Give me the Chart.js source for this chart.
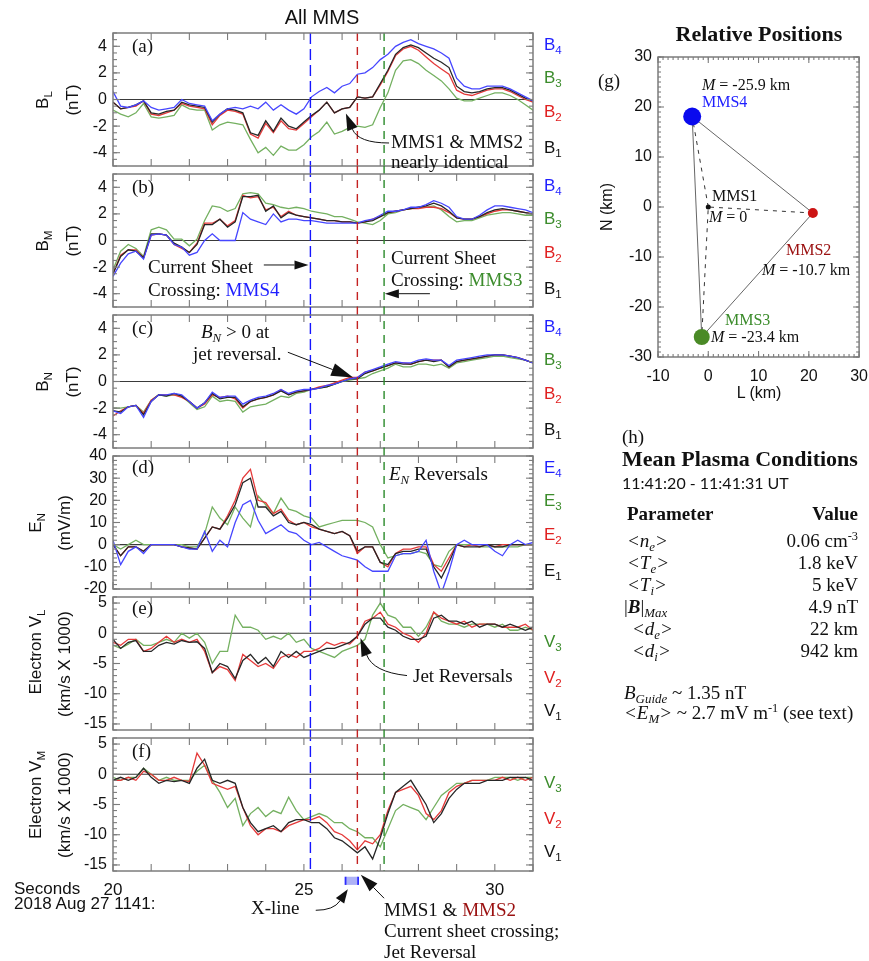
<!DOCTYPE html>
<html><head><meta charset="utf-8">
<script src="https://cdn.jsdelivr.net/npm/chart.js"></script>
<style>
html,body{margin:0;padding:0;background:#fff;}
body{width:869px;height:961px;position:relative;overflow:hidden;}
canvas{position:absolute;}
.x{position:absolute;white-space:nowrap;line-height:1;color:#111;z-index:5;}
.l{transform:translateY(-50%);}
.c{transform:translate(-50%,-50%);}
.r{transform:translate(-100%,-50%);}
.v{transform:translate(-50%,-50%) rotate(-90deg);}
.sf{font-family:"Liberation Serif","Times New Roman",serif;font-size:19px;}
.ss{font-family:"Liberation Sans",Arial,sans-serif;font-size:17px;}
.sb{font-size:0.68em;position:relative;top:0.32em;}
.su{font-size:0.65em;position:relative;top:-0.55em;}
.cb{color:#1f1fff}.cg{color:#3c8c2c}.cr{color:#e02020}.cdr{color:#9a1010}
</style></head><body>
<canvas id="pa" width="560" height="165" style="left:0;top:17px"></canvas>
<canvas id="pb" width="560" height="165" style="left:0;top:158px"></canvas>
<canvas id="pc" width="560" height="165" style="left:0;top:299px"></canvas>
<canvas id="pd" width="560" height="165" style="left:0;top:440px"></canvas>
<canvas id="pe" width="560" height="165" style="left:0;top:581px"></canvas>
<canvas id="pf" width="560" height="198" style="left:0;top:722px"></canvas>
<canvas id="pg" width="288" height="380" style="left:590px;top:30px"></canvas>

<!-- left column texts -->
<div class="x c ss" style="left:322px;top:17px;font-size:20px">All MMS</div>
<div class="x v ss" style="left:42px;top:100px">B<span class="sb">L</span></div>
<div class="x v ss" style="left:72px;top:100px">(nT)</div>
<div class="x v ss" style="left:42px;top:241px">B<span class="sb">M</span></div>
<div class="x v ss" style="left:72px;top:241px">(nT)</div>
<div class="x v ss" style="left:42px;top:382px">B<span class="sb">N</span></div>
<div class="x v ss" style="left:72px;top:382px">(nT)</div>
<div class="x v ss" style="left:35px;top:523px">E<span class="sb">N</span></div>
<div class="x v ss" style="left:64px;top:523px">(mV/m)</div>
<div class="x v ss" style="left:35px;top:652px">Electron V<span class="sb">L</span></div>
<div class="x v ss" style="left:64px;top:664px">(km/s X 1000)</div>
<div class="x v ss" style="left:35px;top:795px">Electron V<span class="sb">M</span></div>
<div class="x v ss" style="left:64px;top:805px">(km/s X 1000)</div>

<div class="x l ss cb" style="left:544px;top:44px">B<span class="sb">4</span></div>
<div class="x l ss cg" style="left:544px;top:77px">B<span class="sb">3</span></div>
<div class="x l ss cr" style="left:544px;top:111px">B<span class="sb">2</span></div>
<div class="x l ss" style="left:544px;top:147px">B<span class="sb">1</span></div>
<div class="x l ss cb" style="left:544px;top:185px">B<span class="sb">4</span></div>
<div class="x l ss cg" style="left:544px;top:218px">B<span class="sb">3</span></div>
<div class="x l ss cr" style="left:544px;top:252px">B<span class="sb">2</span></div>
<div class="x l ss" style="left:544px;top:288px">B<span class="sb">1</span></div>
<div class="x l ss cb" style="left:544px;top:326px">B<span class="sb">4</span></div>
<div class="x l ss cg" style="left:544px;top:359px">B<span class="sb">3</span></div>
<div class="x l ss cr" style="left:544px;top:393px">B<span class="sb">2</span></div>
<div class="x l ss" style="left:544px;top:429px">B<span class="sb">1</span></div>
<div class="x l ss cb" style="left:544px;top:467px">E<span class="sb">4</span></div>
<div class="x l ss cg" style="left:544px;top:500px">E<span class="sb">3</span></div>
<div class="x l ss cr" style="left:544px;top:534px">E<span class="sb">2</span></div>
<div class="x l ss" style="left:544px;top:570px">E<span class="sb">1</span></div>
<div class="x l ss cg" style="left:544px;top:641px">V<span class="sb">3</span></div>
<div class="x l ss cr" style="left:544px;top:677px">V<span class="sb">2</span></div>
<div class="x l ss" style="left:544px;top:710px">V<span class="sb">1</span></div>
<div class="x l ss cg" style="left:544px;top:782px">V<span class="sb">3</span></div>
<div class="x l ss cr" style="left:544px;top:818px">V<span class="sb">2</span></div>
<div class="x l ss" style="left:544px;top:851px">V<span class="sb">1</span></div>

<div class="x l sf" style="left:132px;top:45px">(a)</div>
<div class="x l sf" style="left:132px;top:186px">(b)</div>
<div class="x l sf" style="left:132px;top:327px">(c)</div>
<div class="x l sf" style="left:132px;top:466px">(d)</div>
<div class="x l sf" style="left:132px;top:607px">(e)</div>
<div class="x l sf" style="left:132px;top:750px">(f)</div>

<div class="x l sf" style="left:391px;top:141px">MMS1 &amp; MMS2</div>
<div class="x l sf" style="left:391px;top:161px">nearly identical</div>
<div class="x l sf" style="left:148px;top:266px">Current Sheet</div>
<div class="x l sf" style="left:148px;top:289px">Crossing: <span class="cb">MMS4</span></div>
<div class="x l sf" style="left:391px;top:257px">Current Sheet</div>
<div class="x l sf" style="left:391px;top:279px">Crossing: <span class="cg">MMS3</span></div>
<div class="x l sf" style="left:201px;top:331px"><i>B<span class="sb">N</span></i> &gt; 0 at</div>
<div class="x l sf" style="left:193px;top:353px">jet reversal.</div>
<div class="x l sf" style="left:389px;top:473px"><i>E<span class="sb">N</span></i> Reversals</div>
<div class="x l sf" style="left:413px;top:675px">Jet Reversals</div>

<div class="x l ss" style="left:14px;top:888px">Seconds</div>
<div class="x l ss" style="left:14px;top:903px">2018 Aug 27 1141:</div>
<div class="x l sf" style="left:251px;top:907px">X-line</div>
<div class="x l sf" style="left:384px;top:909px">MMS1 &amp; <span class="cdr">MMS2</span></div>
<div class="x l sf" style="left:384px;top:930px">Current sheet crossing;</div>
<div class="x l sf" style="left:384px;top:951px">Jet Reversal</div>

<!-- (g) texts -->
<div class="x c sf" style="left:759px;top:34px;font-size:22px;font-weight:bold">Relative Positions</div>
<div class="x l sf" style="left:598px;top:80px">(g)</div>
<div class="x v ss" style="left:607px;top:207px;font-size:16px">N (km)</div>
<div class="x c ss" style="left:759px;top:393px;font-size:16px">L (km)</div>
<div class="x l sf" style="left:702px;top:85px;font-size:16px"><i>M</i> = -25.9 km</div>
<div class="x l sf cb" style="left:702px;top:102px;font-size:16px">MMS4</div>
<div class="x l sf" style="left:712px;top:196px;font-size:16px">MMS1</div>
<div class="x l sf" style="left:709px;top:217px;font-size:16px"><i>M</i> = 0</div>
<div class="x l sf cdr" style="left:786px;top:250px;font-size:16px">MMS2</div>
<div class="x l sf" style="left:762px;top:270px;font-size:16px"><i>M</i> = -10.7 km</div>
<div class="x l sf cg" style="left:725px;top:320px;font-size:16px">MMS3</div>
<div class="x l sf" style="left:711px;top:337px;font-size:16px"><i>M</i> = -23.4 km</div>

<!-- (h) texts -->
<div class="x l sf" style="left:622px;top:436px">(h)</div>
<div class="x l sf" style="left:622px;top:459px;font-size:22px;font-weight:bold">Mean Plasma Conditions</div>
<div class="x l" style="left:622px;top:483px;font-family:Lato,'Open Sans',sans-serif;font-size:16px">11:41:20 - 11:41:31 UT</div>
<div class="x l sf" style="left:627px;top:513px;font-weight:bold">Parameter</div>
<div class="x r sf" style="left:858px;top:513px;font-weight:bold">Value</div>
<div class="x l sf" style="left:627px;top:540px"><i>&lt;n<span class="sb">e</span>&gt;</i></div>
<div class="x r sf" style="left:858px;top:540px">0.06 cm<span class="su">-3</span></div>
<div class="x l sf" style="left:627px;top:562px"><i>&lt;T<span class="sb">e</span>&gt;</i></div>
<div class="x r sf" style="left:858px;top:562px">1.8 keV</div>
<div class="x l sf" style="left:627px;top:584px"><i>&lt;T<span class="sb">i</span>&gt;</i></div>
<div class="x r sf" style="left:858px;top:584px">5 keV</div>
<div class="x l sf" style="left:624px;top:606px">|<b><i>B</i></b>|<span class="sb"><i>Max</i></span></div>
<div class="x r sf" style="left:858px;top:606px">4.9 nT</div>
<div class="x l sf" style="left:632px;top:628px"><i>&lt;d<span class="sb">e</span>&gt;</i></div>
<div class="x r sf" style="left:858px;top:628px">22 km</div>
<div class="x l sf" style="left:632px;top:650px"><i>&lt;d<span class="sb">i</span>&gt;</i></div>
<div class="x r sf" style="left:858px;top:650px">942 km</div>
<div class="x l sf" style="left:624px;top:692px"><i>B<span class="sb">Guide</span></i> ~ 1.35 nT</div>
<div class="x l sf" style="left:624px;top:712px"><i>&lt;E<span class="sb">M</span>&gt;</i> ~ 2.7 mV m<span class="su">-1</span> (see text)</div>

<script>
// ---------------- DATA ----------------
const T = [20.0,20.2,20.4,20.6,20.8,21.0,21.2,21.4,21.6,21.8,22.0,22.2,22.4,22.6,22.8,23.0,23.2,23.4,23.6,23.8,24.0,24.2,24.4,24.6,24.8,25.0,25.2,25.4,25.6,25.8,26.0,26.2,26.4,26.6,26.8,27.0,27.2,27.4,27.6,27.8,28.0,28.2,28.4,28.6,28.8,29.0,29.2,29.4,29.6,29.8,30.0,30.2,30.4,30.6,30.8,31.0];

// (a) B_L (nT)
const BL1 = [-0.2,-0.7,-0.6,-0.4,-0.1,-1.0,-1.1,-0.9,-0.8,-0.2,-0.4,-0.5,-0.6,-1.7,-1.1,-0.7,-0.8,-1.0,-2.5,-2.7,-1.6,-2.4,-1.4,-2.0,-2.2,-1.7,-1.2,-0.8,-0.2,-1.0,-0.7,-0.6,0.2,0.1,0.2,1.2,2.2,3.4,3.9,4.1,3.9,3.5,3.1,2.8,2.4,1.0,0.6,0.5,0.6,0.8,0.9,0.9,0.7,0.4,0.1,-0.1];
const BL2 = [-0.2,-0.7,-0.6,-0.5,-0.1,-1.1,-1.2,-1.0,-0.8,-0.3,-0.5,-0.6,-0.7,-1.9,-1.2,-0.8,-0.9,-1.1,-2.6,-2.9,-1.8,-2.5,-1.6,-2.2,-2.3,-1.8,-1.3,-0.8,-0.2,-1.0,-0.7,-0.6,0.2,0.1,0.2,1.1,2.1,3.3,3.8,4.0,3.7,3.2,2.7,2.3,1.9,0.7,0.4,0.3,0.5,0.7,0.8,0.8,0.6,0.3,0.0,-0.2];
const BL3 = [-0.8,-1.1,-1.3,-1.0,-0.3,-1.3,-1.4,-1.3,-1.2,-0.4,-0.7,-0.8,-0.8,-2.3,-1.9,-1.7,-1.8,-1.9,-3.0,-4.0,-3.6,-4.2,-3.5,-3.8,-3.8,-3.4,-2.8,-2.4,-1.7,-2.6,-2.4,-2.1,-2.0,-2.1,-1.9,-0.6,0.5,2.2,2.9,3.0,2.7,2.2,1.8,1.4,0.8,0.1,-0.1,-0.1,0.1,0.3,0.5,0.5,0.3,0.0,-0.4,-0.8];
const BL4 = [0.6,-0.5,-0.6,-0.4,-0.1,-0.6,-0.8,-0.7,-0.6,0.0,-0.3,-0.4,-0.5,-1.6,-1.1,-0.7,-0.6,-0.7,-0.5,-0.7,-0.2,-0.8,-0.4,-0.8,-1.1,-0.7,0.2,0.6,0.9,0.5,1.0,1.2,1.9,2.0,2.4,3.0,3.4,4.0,4.3,4.5,4.2,4.0,3.8,3.5,3.1,1.6,1.0,0.8,0.8,1.0,1.0,1.0,0.8,0.5,0.2,-0.1];

// (b) B_M (nT)
const BM1 = [-2.5,-1.2,-0.7,-0.8,-1.3,0.5,0.5,0.4,-0.2,-0.5,-0.9,-0.3,1.2,1.2,1.6,1.0,1.4,3.3,3.3,3.4,2.2,2.6,1.7,2.1,1.9,1.8,1.7,1.6,1.5,1.5,1.4,1.4,1.3,1.4,1.5,1.8,2.1,2.2,2.3,2.4,2.5,2.6,2.8,2.6,2.2,1.7,1.6,1.6,1.8,2.1,2.3,2.4,2.3,2.2,2.1,2.0];
const BM2 = [-2.5,-1.1,-0.7,-0.7,-1.3,0.4,0.5,0.4,-0.3,-0.6,-0.9,-0.2,1.3,1.3,1.6,1.1,1.5,3.4,3.2,3.3,2.3,2.5,1.8,2.2,1.9,1.8,1.7,1.6,1.5,1.5,1.4,1.4,1.3,1.4,1.6,1.8,2.1,2.2,2.3,2.4,2.4,2.5,2.5,2.4,2.1,1.7,1.6,1.6,1.8,2.0,2.2,2.3,2.3,2.2,2.1,2.0];
const BM3 = [-2.2,-0.8,-0.3,-0.6,-1.2,0.8,1.0,0.8,0.1,0.1,-0.4,0.1,1.5,2.6,2.5,2.2,2.4,3.5,3.6,3.5,2.8,2.7,2.5,2.4,2.5,2.4,2.2,2.1,2.0,1.8,1.8,1.6,1.4,1.3,1.2,1.5,2.0,2.1,2.3,2.4,2.5,2.5,2.6,2.3,1.8,1.4,1.5,1.5,1.7,1.9,2.0,2.1,2.1,2.0,1.9,1.9];
const BM4 = [-2.7,-1.7,-1.0,-0.8,-1.4,0.4,0.5,0.4,-0.3,-0.5,-1.1,-0.9,0.0,0.5,0.0,0.0,0.0,2.1,1.6,1.4,1.2,2.0,1.4,1.6,1.6,1.5,1.5,1.4,1.3,1.3,1.3,1.3,1.3,1.5,1.6,1.9,2.2,2.2,2.3,2.5,2.5,2.7,3.0,2.8,2.5,1.8,1.6,1.6,1.9,2.3,2.6,2.6,2.5,2.4,2.3,2.1];

// (c) B_N (nT)
const BN1 = [-2.2,-2.3,-1.9,-1.8,-2.5,-1.5,-1.0,-1.1,-0.9,-1.1,-1.5,-2.0,-1.6,-0.9,-1.3,-1.2,-1.2,-1.9,-1.5,-1.3,-1.2,-1.0,-0.7,-1.0,-0.8,-0.7,-0.6,-0.5,-0.4,-0.2,0.0,0.2,0.2,0.6,0.8,1.0,1.2,1.4,1.3,1.3,1.5,1.6,1.5,1.6,1.1,1.5,1.6,1.7,1.8,1.9,2.0,2.0,1.9,1.8,1.6,1.4];
const BN2 = [-2.6,-2.2,-1.9,-1.8,-2.4,-1.4,-1.0,-1.0,-1.0,-1.2,-1.5,-2.0,-1.7,-1.0,-1.2,-1.1,-1.3,-2.0,-1.5,-1.3,-1.2,-1.0,-0.6,-1.0,-0.8,-0.7,-0.6,-0.4,-0.3,-0.1,0.1,0.3,0.3,0.7,0.8,1.0,1.2,1.4,1.4,1.3,1.5,1.6,1.6,1.6,1.1,1.5,1.6,1.7,1.8,1.9,2.0,2.0,1.9,1.8,1.6,1.4];
const BN3 = [-2.0,-2.0,-1.9,-1.8,-2.3,-1.4,-1.0,-1.1,-1.0,-1.1,-1.6,-2.1,-1.9,-1.1,-1.5,-1.4,-1.5,-2.3,-1.9,-1.8,-1.7,-1.4,-1.1,-1.2,-0.9,-0.8,-0.6,-0.5,-0.4,-0.2,0.0,0.1,0.2,0.3,0.6,0.8,1.0,1.3,1.1,1.1,1.3,1.3,1.2,1.3,1.0,1.4,1.5,1.6,1.7,1.8,1.9,1.9,1.8,1.7,1.6,1.4];
const BN4 = [-2.2,-2.4,-1.9,-1.8,-2.7,-1.5,-1.0,-1.0,-0.9,-1.0,-1.5,-2.0,-1.6,-0.8,-1.2,-1.1,-1.1,-1.7,-1.4,-1.2,-1.1,-0.9,-0.6,-0.9,-0.7,-0.6,-0.6,-0.5,-0.3,-0.2,0.0,0.2,0.3,0.7,0.9,1.1,1.3,1.5,1.4,1.4,1.6,1.7,1.6,1.6,1.2,1.6,1.7,1.8,1.9,2.0,2.0,2.0,1.9,1.8,1.6,1.4];

// (d) E_N (mV/m)
const EN1 = [0,-5,-1,-1,-3,0,0,0,0,-1,-1.5,-2,3,8,7,12,18,28,30,17,17,13,15,10,9,10,9,7,6,5,6,4,-3,-1,-1,-8,-9,-4,-3,-3,-2,-2,-10,-15,-8,0,-1,-1,-1,0,-1,-1,0,0,0,0];
const EN2 = [0,-5,-1,-1,-3,0,0,0,0,-1,-1.5,-2,3,8,7,13,20,30,34,20,19,14,16,11,9,10,8,7,6,5,6,4,-4,-1,-1,-8,-10,-4,-2,-2,-1,-1,-9,-12,-6,0,-1,0,-1,0,-1,0,0,0,0,0];
const EN3 = [0,-2,0,2,0,0,0,0,0,0,-1,-1,5,17,12,9,17,12,8,22,18,14,21,16,15,13,12,8,9,10,11,11,11,10,8,0,-6,-5,-4,-4,-3,-4,-9,-10,-3,0,0,0,-1,-1,-1,-1,-1,-1,0,0];
const EN4 = [2,-9,-3,-1,-4,0,0,0,0,-1,-2,-2,6,-3,2,-1,10,18,20,11,5,7,9,6,5,2,0,1,-1,-3,-5,-6,-7,-10,-12,-12,-12,-5,-4,-4,-3,2,-12,-22,-12,0,2,0,0,0,-3,-5,0,2,0,1];

// (e) Electron V_L (km/s x 1000)
const VL1 = [-1,-2.5,-1.5,-1.2,-3,-3,-2,-1.5,-1.8,-1.2,-1.5,-1.4,-2.5,-6.5,-5,-5.5,-7.5,-4.5,-3.5,-5,-4,-5.5,-3,-4,-3,-4,-3.5,-3,-2.5,-2.5,-2,-1.5,-0.5,1.5,2.5,2.5,1,0.5,-0.5,-1,-1,-0.5,2.5,3,2,2,1.5,2,1,1.5,1.5,1,1.5,1,0.5,1];
const VL2 = [-1.5,-2,-1,-1,-3,-2.5,-1.5,-0.5,-1.5,-1,-1.5,-1,-3,-6.5,-5.5,-6,-7.8,-3.5,-4.5,-5.5,-5,-5.8,-4,-3.5,-4,-3,-3,-2.5,-1.5,-2,-1.5,-1.8,-0.5,2,2.5,3.5,1.5,1,0,-0.5,-1.5,0,3.5,2.5,2,1.5,2,1,1.5,1.5,1.5,1,1,1,1.5,0.5];
const VL3 = [-2,-2.5,-1.8,-1,-2,-2,-1.5,-1,-1.5,0,-0.8,0,-1.5,-5,-3,-3,3,1,1,0.5,-1,-0.5,-1,0,-1.5,-1,-2.5,-3,-3.5,-4,-3,-2.5,-2,-1,3,5,3,2.5,1,1,-0.5,1,3.5,2,1.5,1.5,1,1.5,1.5,1.5,1,1.5,0.5,0.5,1,0.5];

// (f) Electron V_M (km/s x 1000)
const VM1 = [-1,-0.5,-1,-0.5,1,-0.5,-1.5,-1,-1.2,-1,-1.5,1,2.5,-1,-1.5,-1,-1.5,-5.5,-8,-9.5,-9,-8.5,-9.5,-8,-7.5,-7.5,-8,-8,-9,-10.5,-11,-12,-13,-12,-14,-10.5,-6.5,-3,-2,-1,-3,-5,-8,-6.5,-4,-2.5,-1.5,-1.5,-1.5,-1,-1,-1,-0.5,-0.5,-0.5,-1];
const VM2 = [-1,-1,-0.5,-1,0.5,0,-1,-1,-0.5,-1,-1.2,3.5,1.5,-1.5,-2,-2.5,-2,-5.5,-8.5,-10,-9,-9,-9.5,-8.5,-8,-7.5,-7.5,-7,-8,-9.5,-10,-11,-12.5,-11,-11.5,-10,-6,-3,-2.5,-2,-3.5,-6.5,-7.5,-6,-3,-2,-1.5,-1,-1,-1,-1,-0.5,-1,-0.5,-1,-0.5];
const VM3 = [-0.5,-1,-0.5,-0.5,1,0,-1,-0.5,-1,-1,-1,0.5,1.5,-1,-3,-5.5,-4,-8.5,-6.5,-5.5,-7,-6,-6.5,-3.8,-6,-7.5,-7,-6.5,-7,-8,-8,-9,-9.5,-10.5,-10.5,-12,-9,-6,-5,-5.5,-6,-7.5,-5.5,-3.5,-2.5,-1.5,-1.5,-1,-1,-1,-0.5,-0.5,-0.5,-1,-0.5,-0.5];

// current-sheet crossing times (s after 11:41:00): MMS4, MMS1&2, MMS3
const CROSS_T = [25.17, 26.40, 27.10];
// X-line interval
const XLINE_T = [26.09, 26.42];

// tick labels
const X_LABELS = [20, 25, 30];
const X_MAJOR = [20,21,22,23,24,25,26,27,28,29,30,31];
const Y_TICKS_B = [-4,-2,0,2,4];
const Y_TICKS_E = [-20,-10,0,10,20,30,40];
const Y_TICKS_V = [-15,-10,-5,0,5];

// (g) relative positions (km)
const SC_NAMES = ['MMS1','MMS2','MMS3','MMS4'];
const SC_L = [0, 20.8, -1.3, -3.2];
const SC_N = [0, -1.2, -26.0, 18.1];
const SC_M = [0, -10.7, -23.4, -25.9];
const X_TICKS_G = [-10,0,10,20,30];
const Y_TICKS_G = [-30,-20,-10,0,10,20,30];

// ---------------- STYLE ----------------
const COL = {k:'#262626', r:'#e53a3a', g:'#74b060', b:'#4646ff'};
const FONT_T = {family:'"Liberation Sans", Arial, sans-serif', size:16};

// ---------------- PLUGIN ----------------
const CFG = {};
function seg(ctx,x1,y1,x2,y2){ctx.beginPath();ctx.moveTo(x1,y1);ctx.lineTo(x2,y2);ctx.stroke();}
function drawArrow(ctx,xs,ys,ar){
  const P = ar.pts.map(p=>[xs.getPixelForValue(p[0]), ys.getPixelForValue(p[1])]);
  const tip = P[P.length-1], prev = P[P.length-2];
  let dx = tip[0]-prev[0], dy = tip[1]-prev[1]; const L = Math.hypot(dx,dy); dx/=L; dy/=L;
  const bx = tip[0]-dx*ar.hl, by = tip[1]-dy*ar.hl;
  ctx.beginPath(); ctx.moveTo(P[0][0],P[0][1]);
  if(P.length===3) ctx.quadraticCurveTo(P[1][0],P[1][1],bx,by); else ctx.lineTo(bx,by);
  ctx.stroke();
  ctx.beginPath(); ctx.moveTo(tip[0],tip[1]);
  ctx.lineTo(bx - dy*ar.hw/2, by + dx*ar.hw/2);
  ctx.lineTo(bx + dy*ar.hw/2, by - dx*ar.hw/2);
  ctx.closePath(); ctx.fill();
}
const idl = {
  id:'idl',
  beforeDatasetsDraw(chart){
    const c = CFG[chart.canvas.id]; if(!c || !c.zero) return;
    const ctx = chart.ctx, a = chart.chartArea, y = chart.scales.y;
    ctx.save(); ctx.strokeStyle='#3a3a3a'; ctx.lineWidth=1.2;
    const p = y.getPixelForValue(0); seg(ctx,a.left,p,a.right,p); ctx.restore();
  },
  afterDatasetsDraw(chart){
    const c = CFG[chart.canvas.id]; if(!c) return;
    const ctx = chart.ctx, a = chart.chartArea, xs = chart.scales.x, ys = chart.scales.y;
    ctx.save();
    if(c.vlines){
      const cols = ['#1515ff','#c42222','#2a8a2a'], dashes = [[11,5],[8,6],[8,6]];
      CROSS_T.forEach((t,i)=>{
        const px = xs.getPixelForValue(t);
        ctx.strokeStyle = cols[i]; ctx.lineWidth = 1.4; ctx.setLineDash(dashes[i]);
        seg(ctx, px, a.top - (c.first?0:8), px, a.bottom);
      });
      ctx.setLineDash([]);
    }
    ctx.strokeStyle='#7c7c7c'; ctx.lineWidth=1.5;
    ctx.strokeRect(a.left, a.top, a.right-a.left, a.bottom-a.top);
    ctx.lineWidth=1.1;
    const ty=(v,len)=>{const p=ys.getPixelForValue(v); seg(ctx,a.left,p,a.left+len,p); seg(ctx,a.right,p,a.right-len,p);};
    const tx=(v,len)=>{const p=xs.getPixelForValue(v); seg(ctx,p,a.top,p,a.top+len); seg(ctx,p,a.bottom,p,a.bottom-len);};
    for(let v=ys.min; v<=ys.max+1e-9; v+=c.yMinor) ty(v,c.minLen);
    c.yMajor.forEach(v=>ty(v,c.majLen));
    if(c.xMinor) for(let v=xs.min; v<=xs.max+1e-9; v+=c.xMinor) tx(v,c.minLen);
    c.xMajor.forEach(v=>tx(v,c.majLen));
    if(c.xline){
      const x1=xs.getPixelForValue(XLINE_T[0]), x2=xs.getPixelForValue(XLINE_T[1]);
      const y1=ys.getPixelForValue(c.xline[0]), y2=ys.getPixelForValue(c.xline[1]);
      ctx.fillStyle='#aeb2f6'; ctx.fillRect(x1,y1,x2-x1,y2-y1);
      ctx.strokeStyle='#2b2bff'; ctx.lineWidth=1.8; seg(ctx,x1,y1,x1,y2); seg(ctx,x2,y1,x2,y2);
    }
    ctx.strokeStyle='#111'; ctx.fillStyle='#111'; ctx.lineWidth=1;
    (c.arrows||[]).forEach(ar=>drawArrow(ctx,xs,ys,ar));
    ctx.restore();
  }
};
Chart.register(idl);

function ds(vals,color){
  return {data:T.map((t,i)=>({x:t,y:vals[i]})), borderColor:color, borderWidth:1.3, pointRadius:0, tension:0, fill:false};
}
function panel(id, ymin, ymax, yticks, datasets, last){
  const xOpt = last ? {
      type:'linear', min:20, max:31, position:'bottom',
      afterFit:s=>{s.height=40;},
      afterBuildTicks:s=>{s.ticks=X_LABELS.map(v=>({value:v}));},
      grid:{display:false, drawTicks:false}, border:{display:false},
      ticks:{padding:9, font:{family:FONT_T.family,size:17}, color:'#111', autoSkip:false, maxRotation:0}
    } : {type:'linear', min:20, max:31, display:false};
  return new Chart(document.getElementById(id), {
    type:'line',
    data:{datasets},
    options:{
      responsive:false, animation:false, devicePixelRatio:1,
      layout:{padding:{left:0,right:27,top:16,bottom:last?9:16}},
      plugins:{legend:{display:false}, tooltip:{enabled:false}},
      scales:{
        x:xOpt,
        y:{type:'linear', min:ymin, max:ymax,
           afterFit:s=>{s.width=113;},
           afterBuildTicks:s=>{s.ticks=yticks.map(v=>({value:v}));},
           grid:{display:false, drawTicks:false}, border:{display:false},
           ticks:{padding:6, font:FONT_T, color:'#111', autoSkip:false}}
      }
    }
  });
}

CFG.pa = {zero:true, vlines:true, first:true, yMajor:Y_TICKS_B, yMinor:0.5, xMajor:X_MAJOR, majLen:7, minLen:4,
  arrows:[{pts:[[27.23,-3.27],[26.42,-3.27],[26.10,-1.05]], hl:17, hw:11}]};
CFG.pb = {zero:true, vlines:true, yMajor:Y_TICKS_B, yMinor:0.5, xMajor:X_MAJOR, majLen:7, minLen:4,
  arrows:[{pts:[[23.95,-1.84],[25.12,-1.84]], hl:14, hw:9},{pts:[[28.30,-4.0],[27.12,-4.0]], hl:14, hw:9}]};
CFG.pc = {zero:true, vlines:true, yMajor:Y_TICKS_B, yMinor:0.5, xMajor:X_MAJOR, majLen:7, minLen:4,
  arrows:[{pts:[[24.58,2.2],[26.29,0.3]], hl:22, hw:13}]};
CFG.pd = {zero:true, vlines:true, yMajor:Y_TICKS_E, yMinor:2, xMajor:X_MAJOR, majLen:7, minLen:4};
CFG.pe = {zero:true, vlines:true, yMajor:Y_TICKS_V, yMinor:1, xMajor:X_MAJOR, majLen:7, minLen:4,
  arrows:[{pts:[[27.70,-7.0],[26.81,-6.4],[26.48,-0.8]], hl:18, hw:11}]};
CFG.pf = {zero:true, vlines:true, yMajor:Y_TICKS_V, yMinor:1, xMajor:X_MAJOR, majLen:7, minLen:4,
  xline:[-16.95,-18.3],
  arrows:[{pts:[[25.31,-22.5],[25.78,-22.5],[26.15,-19.0]], hl:14, hw:10},
          {pts:[[27.10,-20.5],[26.49,-16.6]], hl:18, hw:11}]};

panel('pa',-5,5,Y_TICKS_B,[ds(BL4,COL.b),ds(BL1,COL.k),ds(BL2,COL.r),ds(BL3,COL.g)]);
panel('pb',-5,5,Y_TICKS_B,[ds(BM4,COL.b),ds(BM1,COL.k),ds(BM2,COL.r),ds(BM3,COL.g)]);
panel('pc',-5,5,Y_TICKS_B,[ds(BN4,COL.b),ds(BN1,COL.k),ds(BN2,COL.r),ds(BN3,COL.g)]);
panel('pd',-20,40,Y_TICKS_E,[ds(EN4,COL.b),ds(EN1,COL.k),ds(EN2,COL.r),ds(EN3,COL.g)]);
panel('pe',-16,6,Y_TICKS_V,[ds(VL1,COL.k),ds(VL2,COL.r),ds(VL3,COL.g)]);
panel('pf',-16,6,Y_TICKS_V,[ds(VM1,COL.k),ds(VM2,COL.r),ds(VM3,COL.g)],true);

// ---------------- (g) scatter ----------------
const P = SC_L.map((l,i)=>({x:l, y:SC_N[i]}));
CFG.pg = {zero:false, yMajor:Y_TICKS_G, yMinor:1, xMajor:X_TICKS_G, xMinor:1, majLen:6, minLen:3};
new Chart(document.getElementById('pg'), {
  type:'scatter',
  data:{datasets:[
    {data:P, pointRadius:[2.5,5,8,9], pointBackgroundColor:['#111','#cc1414','#4a8a26','#0a0aee'], pointBorderWidth:0, showLine:false},
    {data:[P[3],P[1],P[2],P[3]], showLine:true, borderColor:'#555', borderWidth:0.9, pointRadius:0},
    {data:[P[1],P[0],P[2]], showLine:true, borderColor:'#333', borderWidth:1, borderDash:[4,5], pointRadius:0},
    {data:[P[0],P[3]], showLine:true, borderColor:'#333', borderWidth:1, borderDash:[4,5], pointRadius:0}
  ]},
  options:{
    responsive:false, animation:false, devicePixelRatio:1,
    layout:{padding:{left:0,right:0,top:27,bottom:8}},
    plugins:{legend:{display:false}, tooltip:{enabled:false}},
    scales:{
      x:{type:'linear', min:-10, max:30,
         afterFit:s=>{s.height=45;},
         afterBuildTicks:s=>{s.ticks=X_TICKS_G.map(v=>({value:v}));},
         grid:{display:false, drawTicks:false}, border:{display:false},
         ticks:{padding:10, font:FONT_T, color:'#111', autoSkip:false, maxRotation:0}},
      y:{type:'linear', min:-30, max:30,
         afterFit:s=>{s.width=68;},
         afterBuildTicks:s=>{s.ticks=Y_TICKS_G.map(v=>({value:v}));},
         grid:{display:false, drawTicks:false}, border:{display:false},
         ticks:{padding:6, font:FONT_T, color:'#111', autoSkip:false}}
    }
  }
});
</script>
</body></html>
